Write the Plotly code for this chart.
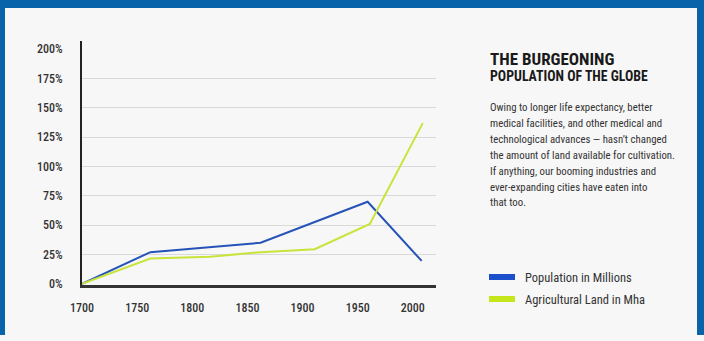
import plotly.graph_objects as go

# ---- data ----
pop_years = [1700, 1762, 1862, 1959, 2008]
pop_values = [0, 27, 35, 70, 19.5]
land_years = [1700, 1762, 1816, 1862, 1911, 1961, 2009]
land_values = [0, 21.5, 23, 27, 29.5, 51, 137]
x_ticks = [1700, 1750, 1800, 1850, 1900, 1950, 2000]
y_ticks = [0, 25, 50, 75, 100, 125, 150, 175, 200]
y_tick_labels = ["0%", "25%", "50%", "75%", "100%", "125%", "150%", "175%", "200%"]
series_names = ["Population in Millions", "Agricultural Land in Mha"]
title_lines = ["THE BURGEONING", "POPULATION OF THE GLOBE"]
body_lines = [
    "Owing to longer life expectancy, better",
    "medical facilities, and other medical and",
    "technological advances \u2014 hasn\u2019t changed",
    "the amount of land available for cultivation.",
    "If anything, our booming industries and",
    "ever-expanding cities have eaten into",
    "that too.",
]

BLUE = "#2553b8"
GREEN = "#c8e43a"
SW_BLUE = "#1c4fcc"
SW_GREEN = "#c6e61c"
FRAME = "#0863ab"
BG = "#f7f7f7"
FONT = "Roboto Condensed, Liberation Sans Narrow, DejaVu Sans Condensed, Roboto, sans-serif"

W, H = 704, 341
L, R, T, B = 82, 436, 41, 285


def px(x):
    return (x - L) / (R - L)


def py(y):
    return (B - y) / (B - T)


fig = go.Figure()
fig.add_trace(go.Scatter(x=pop_years, y=pop_values, mode="lines", name=series_names[0],
                         line=dict(color=BLUE, width=2), showlegend=False))
fig.add_trace(go.Scatter(x=land_years, y=land_values, mode="lines", name=series_names[1],
                         line=dict(color=GREEN, width=2), showlegend=False))

shapes = [
    dict(type="rect", xref="paper", yref="paper", x0=px(0), x1=px(W), y0=py(0), y1=py(335),
         fillcolor=FRAME, line_width=0, layer="below"),
    dict(type="rect", xref="paper", yref="paper", x0=px(5), x1=px(697), y0=py(8), y1=py(336),
         fillcolor=BG, line_width=0, layer="below"),
    # legend swatches
    dict(type="rect", xref="paper", yref="paper", x0=px(489), x1=px(515), y0=py(274), y1=py(280),
         fillcolor=SW_BLUE, line_width=0),
    dict(type="rect", xref="paper", yref="paper", x0=px(489), x1=px(515), y0=py(296), y1=py(302),
         fillcolor=SW_GREEN, line_width=0),
]

ann = []
ann.append(dict(text="<b>" + title_lines[0] + "</b>", x=px(488), y=py(59), xref="paper", yref="paper",
                xanchor="left", yanchor="middle", showarrow=False,
                font=dict(family=FONT, size=17, color="#1a1a1a")))
ann.append(dict(text="<b>" + title_lines[1] + "</b>", x=px(488), y=py(76), xref="paper", yref="paper",
                xanchor="left", yanchor="middle", showarrow=False,
                font=dict(family=FONT, size=13.8, color="#1a1a1a")))
for i, line in enumerate(body_lines):
    ann.append(dict(text=line, x=px(488), y=py(107.5 + i * 15.9), xref="paper", yref="paper",
                    xanchor="left", yanchor="middle", showarrow=False,
                    font=dict(family=FONT, size=10.8, color="#333333")))
for i, name in enumerate(series_names):
    ann.append(dict(text=name, x=px(523), y=py(277 + i * 22), xref="paper", yref="paper",
                    xanchor="left", yanchor="middle", showarrow=False,
                    font=dict(family=FONT, size=12.5, color="#333333")))

fig.update_layout(
    width=W, height=H,
    margin=dict(l=L, r=W - R, t=T, b=H - B, pad=0),
    paper_bgcolor=BG, plot_bgcolor="rgba(0,0,0,0)",
    shapes=shapes, annotations=ann, showlegend=False,
    xaxis=dict(range=[1700, 2021], tickvals=x_ticks, showgrid=False, zeroline=False,
               showline=True, linecolor="#333333", linewidth=3, ticks="",
               ticklabelstandoff=10,
               tickfont=dict(family=FONT, size=12, color="#333333", weight=500)),
    yaxis=dict(range=[-1, 207], tickvals=y_ticks, ticktext=y_tick_labels, showgrid=False,
               zeroline=False, showline=True, linecolor="#222222", linewidth=2, ticks="",
               ticklabelstandoff=15,
               tickfont=dict(family=FONT, size=12, color="#333333", weight=500),
               minor=dict(tickvals=[25, 50, 75, 100, 125, 150, 175], showgrid=True,
                          gridcolor="#d9d9d9", gridwidth=1, ticks="")),
)

fig.write_html("out.html")
